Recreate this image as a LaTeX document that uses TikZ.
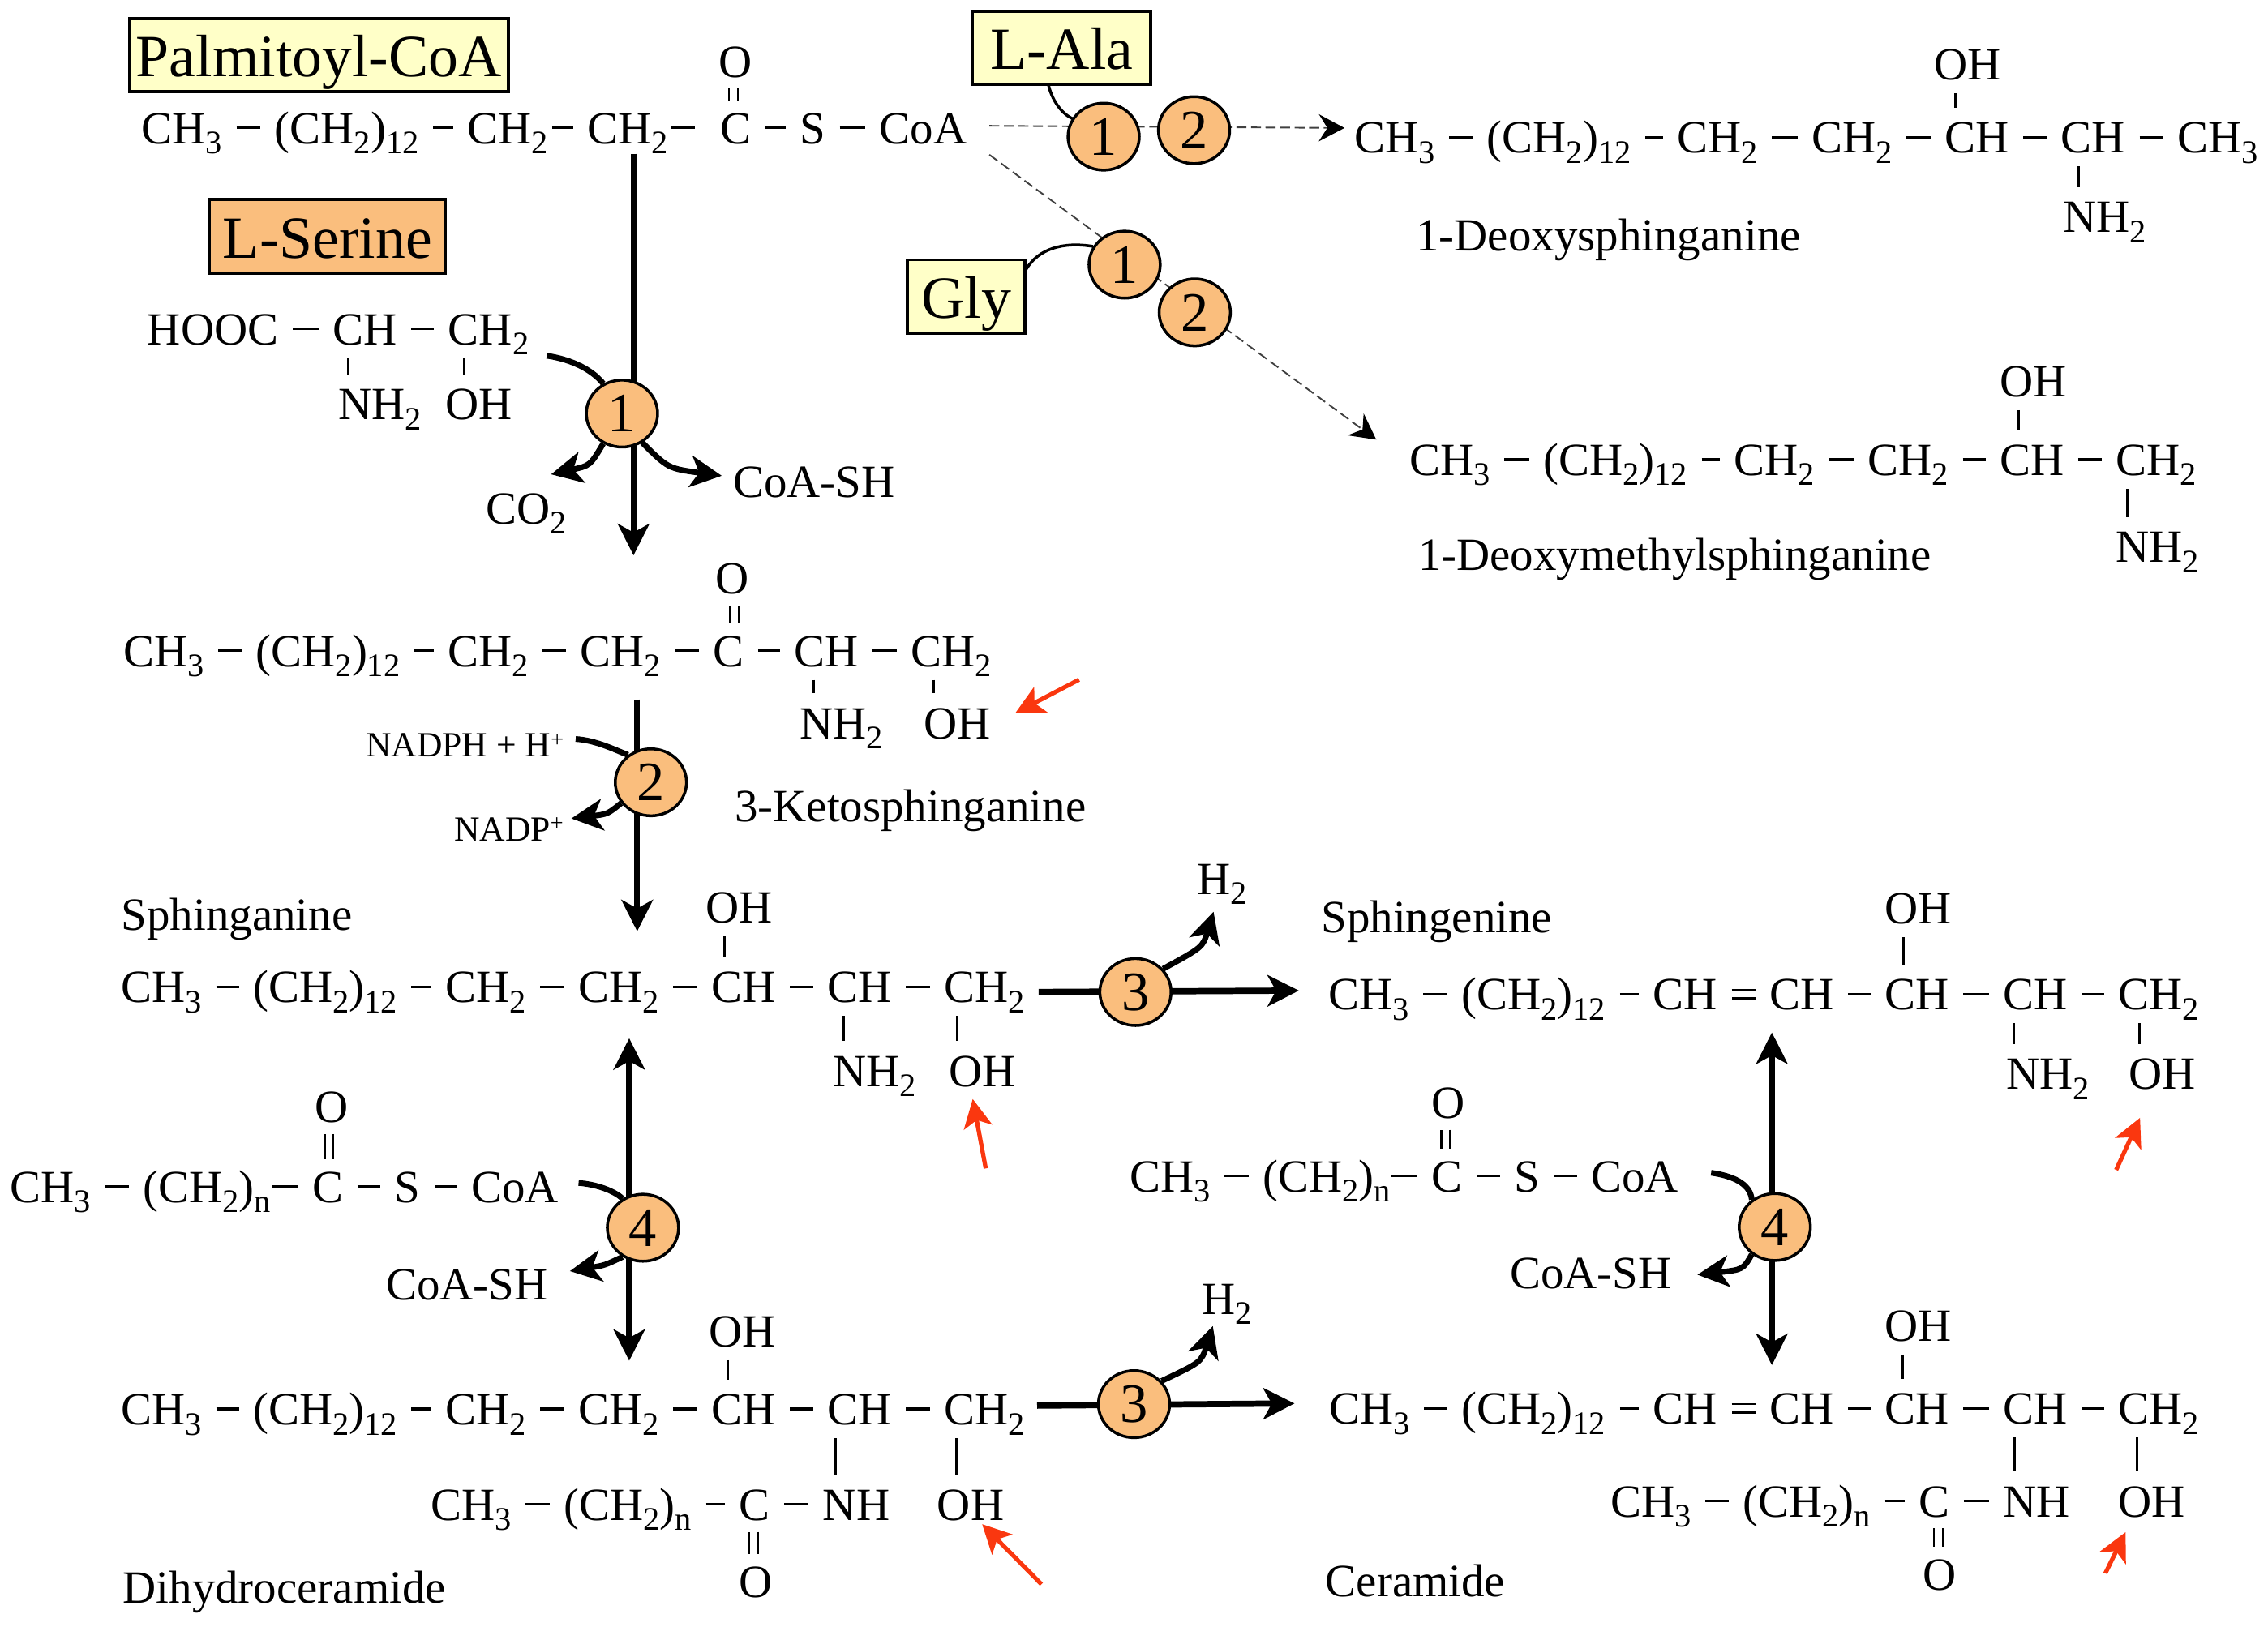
\documentclass[tikz,border=0pt]{standalone}
\usepackage{fontspec}
\setmainfont{Liberation Serif}
\usetikzlibrary{arrows.meta,shapes.geometric}
\definecolor{boxyellow}{RGB}{255,255,200}
\definecolor{enzorange}{RGB}{250,190,125}
\definecolor{redarrow}{RGB}{250,55,15}
\newcommand{\subs}[1]{\raisebox{-3.5pt}{\fontsize{11.5}{13}\selectfont #1}}
\newcommand{\sups}[1]{\raisebox{3.5pt}{\fontsize{8}{9}\selectfont #1}}

\begin{document}
\begin{tikzpicture}[
    x=0.017838cm, y=-0.017838cm,
    chem/.style={anchor=base west, xshift=-5pt, yshift=-0.7pt, inner sep=0pt, outer xsep=5pt, outer ysep=0pt,
        text height=12.7pt, text depth=1.5pt, font=\fontsize{16.2}{19}\selectfont},
    smalltext/.style={chem, font=\fontsize{12.4}{14}\selectfont},
    bond/.style={line width=0.9pt},
    dbl/.style={double, double distance=2.4pt, line width=0.65pt},
    tick/.style={line width=0.9pt, shorten <=3.2pt, shorten >=3.2pt},
    dtick/.style={dbl, shorten <=2.5pt, shorten >=2.5pt},
    namebox/.style={rectangle, draw, line width=1pt, inner sep=0pt, text height=15pt, text depth=0pt,
        font=\fontsize{21}{24}\selectfont},
    enzyme/.style={ellipse, draw, line width=1pt, fill=enzorange, inner sep=0pt,
        minimum width=25pt, minimum height=23.5pt, font=\fontsize{19.5}{22}\selectfont},
    main/.style={->, >={Stealth[length=11pt,width=11pt,inset=3pt]}, line width=2pt},
    heavy/.style={main, line width=2.2pt},
    side/.style={->, >={Stealth[length=11pt,width=11pt,inset=3pt]}, line width=2pt},
    sidein/.style={line width=2pt},
    thinlink/.style={line width=1pt},
    dashedarrow/.style={->, >={Stealth[length=9pt,width=9.5pt,inset=3pt,black]}, line width=0.55pt, draw=black!75, dash pattern=on 3.5pt off 1.6pt},
    redmark/.style={->, >={Stealth[length=10pt,width=10pt,inset=2.5pt]}, line width=1.5pt, draw=redarrow}
]
\useasboundingbox (0,0) rectangle (1568,1124.6);

% Name boxes
\node[namebox, fill=boxyellow, minimum width=133pt, minimum height=25.6pt] (PAL) at (220.5,38) {Palmitoyl-CoA};
\node[namebox, fill=enzorange, minimum width=82.7pt, minimum height=25.9pt] (SER) at (226.5,163.5) {L-Serine\hspace{2pt}};
\node[namebox, fill=boxyellow, minimum width=62.5pt, minimum height=25.6pt] (LA) at (734,33) {L-Ala\hspace{6pt}};
\node[namebox, fill=boxyellow, minimum width=41.2pt, minimum height=25.8pt] (GY) at (668,205) {Gly\hspace{3pt}};

% Palmitoyl-CoA
\node[chem] (P1) at (98,98) {CH\subs{3}};
\node[chem] (P2) at (190,98) {(CH\subs{2})\subs{12}};
\node[chem] (P3) at (323,98) {CH\subs{2}};
\node[chem] (P4) at (406,98) {CH\subs{2}};
\node[chem] (P5) at (498,98) {C};
\node[chem] (P6) at (553,98) {S};
\node[chem] (P7) at (608,98) {CoA};
\node[chem] (PO) at (497,52) {O};

% L-Serine
\node[chem] (S1) at (102,237) {HOOC};
\node[chem] (S2) at (230,237) {CH};
\node[chem] (S3) at (310,237) {CH\subs{2}};
\node[chem] (S4) at (234,289) {NH\subs{2}};
\node[chem] (S5) at (308,289) {OH};
\node[chem] (CO) at (336,361) {CO\subs{2}};
\node[chem] (CS1) at (507,342.5) {CoA-SH};

% 3-Ketosphinganine
\node[chem] (K1) at (85.5,459.5) {CH\subs{3}};
\node[chem] (K2) at (177,459.5) {(CH\subs{2})\subs{12}};
\node[chem] (K3) at (309.5,459.5) {CH\subs{2}};
\node[chem] (K4) at (401,459.5) {CH\subs{2}};
\node[chem] (K5) at (493,459.5) {C};
\node[chem] (K6) at (549,459.5) {CH};
\node[chem] (K7) at (630,459.5) {CH\subs{2}};
\node[chem] (KO) at (495,409.5) {O};
\node[chem] (KN) at (553,509.5) {NH\subs{2}};
\node[chem] (KH) at (639,509.5) {OH};
\node[chem] (KT) at (508,567) {3-Ketosphinganine};
\node[smalltext] (NH) at (253,522) {NADPH + H\sups{+}};
\node[smalltext] (NP) at (314,580) {NADP\sups{+}};

% Sphinganine
\node[chem] (AT) at (84,642) {Sphinganine};
\node[chem] (A1) at (84,692) {CH\subs{3}};
\node[chem] (A2) at (175,692) {(CH\subs{2})\subs{12}};
\node[chem] (A3) at (308,692) {CH\subs{2}};
\node[chem] (A4) at (400,692) {CH\subs{2}};
\node[chem] (A5) at (492,692) {CH};
\node[chem] (A6) at (572,692) {CH};
\node[chem] (A7) at (653,692) {CH\subs{2}};
\node[chem] (AO) at (488,637) {OH};
\node[chem] (AN) at (576,750) {NH\subs{2}};
\node[chem] (AH) at (656,750) {OH};

% Acyl-CoA, left
\node[chem] (L1) at (7,830) {CH\subs{3}};
\node[chem] (L2) at (99,830) {(CH\subs{2})\subs{n}};
\node[chem] (L3) at (216,830) {C};
\node[chem] (L4) at (273,830) {S};
\node[chem] (L5) at (326,830) {CoA};
\node[chem] (LO) at (218,775) {O};
\node[chem] (CS2) at (267,897.5) {CoA-SH};

% Dihydroceramide
\node[chem] (D1) at (84,984) {CH\subs{3}};
\node[chem] (D2) at (175,984) {(CH\subs{2})\subs{12}};
\node[chem] (D3) at (308,984) {CH\subs{2}};
\node[chem] (D4) at (400,984) {CH\subs{2}};
\node[chem] (D5) at (492,984) {CH};
\node[chem] (D6) at (572,984) {CH};
\node[chem] (D7) at (653,984) {CH\subs{2}};
\node[chem] (DO) at (490,930) {OH};
\node[chem] (E1) at (298,1050) {CH\subs{3}};
\node[chem] (E2) at (390,1050) {(CH\subs{2})\subs{n}};
\node[chem] (E3) at (511,1050) {C};
\node[chem] (E4) at (569,1050) {NH};
\node[chem] (E5) at (648,1050) {OH};
\node[chem] (EO) at (511,1103) {O};
\node[chem] (ET) at (85,1107) {Dihydroceramide};

% 1-Deoxysphinganine
\node[chem] (U1) at (936.5,104.5) {CH\subs{3}};
\node[chem] (U2) at (1028,104.5) {(CH\subs{2})\subs{12}};
\node[chem] (U3) at (1159.5,104.5) {CH\subs{2}};
\node[chem] (U4) at (1252.5,104.5) {CH\subs{2}};
\node[chem] (U5) at (1344.5,104.5) {CH};
\node[chem] (U6) at (1425,104.5) {CH};
\node[chem] (U7) at (1505.5,104.5) {CH\subs{3}};
\node[chem] (UO) at (1337.5,54) {OH};
\node[chem] (UN) at (1426.5,159.5) {NH\subs{2}};
\node[chem] (UT) at (979,172) {1-Deoxysphinganine};

% 1-Deoxymethylsphinganine
\node[chem] (V1) at (974.5,327.5) {CH\subs{3}};
\node[chem] (V2) at (1067,327.5) {(CH\subs{2})\subs{12}};
\node[chem] (V3) at (1199,327.5) {CH\subs{2}};
\node[chem] (V4) at (1291.5,327.5) {CH\subs{2}};
\node[chem] (V5) at (1382.5,327.5) {CH};
\node[chem] (V6) at (1463,327.5) {CH\subs{2}};
\node[chem] (VO) at (1382.5,273) {OH};
\node[chem] (VN) at (1463,387.5) {NH\subs{2}};
\node[chem] (VT) at (980.5,393) {1-Deoxymethylsphinganine};

% Sphingenine
\node[chem] (GT) at (913.5,643.5) {Sphingenine};
\node[chem] (G1) at (918.5,697) {CH\subs{3}};
\node[chem] (G2) at (1010.5,697) {(CH\subs{2})\subs{12}};
\node[chem] (G3) at (1143,697) {CH};
\node[chem] (G4) at (1223.5,697) {CH};
\node[chem] (G5) at (1303,697) {CH};
\node[chem] (G6) at (1385,697) {CH};
\node[chem] (G7) at (1464.5,697) {CH\subs{2}};
\node[chem] (GO) at (1303,637.5) {OH};
\node[chem] (GN) at (1387,752) {NH\subs{2}};
\node[chem] (GH) at (1472,752) {OH};

% Acyl-CoA, right
\node[chem] (R1) at (781,823) {CH\subs{3}};
\node[chem] (R2) at (873,823) {(CH\subs{2})\subs{n}};
\node[chem] (R3) at (990,823) {C};
\node[chem] (R4) at (1047,823) {S};
\node[chem] (R5) at (1100,823) {CoA};
\node[chem] (RO) at (990,772) {O};
\node[chem] (CS3) at (1044,889.5) {CoA-SH};

% Ceramide
\node[chem] (M1) at (919,983.5) {CH\subs{3}};
\node[chem] (M2) at (1010.5,983.5) {(CH\subs{2})\subs{12}};
\node[chem] (M3) at (1143,983.5) {CH};
\node[chem] (M4) at (1223.5,983.5) {CH};
\node[chem] (M5) at (1303,983.5) {CH};
\node[chem] (M6) at (1385,983.5) {CH};
\node[chem] (M7) at (1464.5,983.5) {CH\subs{2}};
\node[chem] (MO) at (1303,926) {OH};
\node[chem] (N1) at (1113.5,1047.5) {CH\subs{3}};
\node[chem] (N2) at (1205,1047.5) {(CH\subs{2})\subs{n}};
\node[chem] (N3) at (1326.5,1047.5) {C};
\node[chem] (N4) at (1385,1047.5) {NH};
\node[chem] (N5) at (1464.5,1047.5) {OH};
\node[chem] (NO) at (1329.5,1098) {O};
\node[chem] (MT) at (916.5,1102.5) {Ceramide};

% H2 labels
\node[chem] (H2a) at (827.5,617) {H\subs{2}};
\node[chem] (H2b) at (831,907.5) {H\subs{2}};

% Bonds along the chains
\draw[bond] (P1) -- (P2) -- (P3);
\draw[bond, shorten <=-3.5pt] (P3) -- (P4);
\draw[bond, shorten <=-4pt, shorten >=4pt] (P4) -- (P5);
\draw[bond] (P5) -- (P6) -- (P7);
\draw[bond] (S1) -- (S2) -- (S3);
\draw[bond] (K1) -- (K2) -- (K3) -- (K4) -- (K5) -- (K6) -- (K7);
\draw[bond] (A1) -- (A2) -- (A3) -- (A4) -- (A5) -- (A6) -- (A7);
\draw[bond] (L1) -- (L2);
\draw[bond, shorten <=-4.5pt] (L2) -- (L3);
\draw[bond] (L3) -- (L4) -- (L5);
\draw[bond] (D1) -- (D2) -- (D3) -- (D4) -- (D5) -- (D6) -- (D7);
\draw[bond] (E1) -- (E2) -- (E3) -- (E4);
\draw[bond] (U1) -- (U2) -- (U3) -- (U4) -- (U5) -- (U6) -- (U7);
\draw[bond] (V1) -- (V2) -- (V3) -- (V4) -- (V5) -- (V6);
\draw[bond] (G1) -- (G2) -- (G3);
\draw[dbl] (G3) -- (G4);
\draw[bond] (G4) -- (G5) -- (G6) -- (G7);
\draw[bond] (R1) -- (R2);
\draw[bond, shorten <=-4.5pt] (R2) -- (R3);
\draw[bond] (R3) -- (R4) -- (R5);
\draw[bond] (M1) -- (M2) -- (M3);
\draw[dbl] (M3) -- (M4);
\draw[bond] (M4) -- (M5) -- (M6) -- (M7);
\draw[bond] (N1) -- (N2) -- (N3) -- (N4);

% Substituent bonds
\draw[dtick] (507,0 |- PO.south) -- (507,0 |- P5.north);
\draw[tick] (241,0 |- S2.south) -- (241,0 |- S4.north);
\draw[tick] (321,0 |- S3.south) -- (321,0 |- S5.north);
\draw[dtick] (507.5,0 |- KO.south) -- (507.5,0 |- K5.north);
\draw[tick] (562.5,0 |- K6.south) -- (562.5,0 |- KN.north);
\draw[tick] (645.5,0 |- K7.south) -- (645.5,0 |- KH.north);
\draw[tick] (501,0 |- AO.south) -- (501,0 |- A5.north);
\draw[tick] (583,0 |- A6.south) -- (583,0 |- AN.north);
\draw[tick] (662,0 |- A7.south) -- (662,0 |- AH.north);
\draw[dtick] (227.5,0 |- LO.south) -- (227.5,0 |- L3.north);
\draw[tick] (503,0 |- DO.south) -- (503,0 |- D5.north);
\draw[tick] (577.5,0 |- D6.south) -- (577.5,0 |- E4.north);
\draw[tick] (661,0 |- D7.south) -- (661,0 |- E5.north);
\draw[dtick] (521,0 |- E3.south) -- (521,0 |- EO.north);
\draw[tick] (1352,0 |- UO.south) -- (1352,0 |- U5.north);
\draw[tick] (1437,0 |- U6.south) -- (1437,0 |- UN.north);
\draw[tick] (1395.5,0 |- VO.south) -- (1395.5,0 |- V5.north);
\draw[tick] (1471,0 |- V6.south) -- (1471,0 |- VN.north);
\draw[tick] (1316,0 |- GO.south) -- (1316,0 |- G5.north);
\draw[tick] (1392,0 |- G6.south) -- (1392,0 |- GN.north);
\draw[tick] (1479,0 |- G7.south) -- (1479,0 |- GH.north);
\draw[dtick] (999.5,0 |- RO.south) -- (999.5,0 |- R3.north);
\draw[tick] (1315.5,0 |- MO.south) -- (1315.5,0 |- M5.north);
\draw[tick] (1393,0 |- M6.south) -- (1393,0 |- N4.north);
\draw[tick] (1477.5,0 |- M7.south) -- (1477.5,0 |- N5.north);
\draw[dtick] (1340,0 |- N3.south) -- (1340,0 |- NO.north);

% Free ends of the arrows
\coordinate (T1) at (438,384);
\coordinate (T2) at (440.5,644);
\coordinate (T3) at (435,718);
\coordinate (T4) at (435,941);
\coordinate (T5) at (1225,714);
\coordinate (T6) at (1225,944);
\coordinate (T7) at (718,686);
\coordinate (T8) at (898,685);
\coordinate (T9) at (717,972);
\coordinate (T10) at (895,970.5);
\coordinate (H1) at (684,87);
\coordinate (H2) at (929.5,88.5);
\coordinate (H3) at (684,107);
\coordinate (H4) at (951.5,304);

% Main arrows
\draw[main, shorten <=2pt] (T1 |- P4.south) -- (T1);
\draw[main, shorten <=10pt] (T2 |- K4.south) -- (T2);
\draw[main, <->] (T3) -- (T4);
\draw[main, <->] (T5) -- (T6);
\draw[heavy] (T7) -- (T8);
\draw[heavy] (T9) -- (T10);
\draw[dashedarrow] (H1) -- (H2);
\draw[dashedarrow] (H3) -- (H4);

% Enzymes
\node[enzyme] (Z1) at (430,286) {1};
\node[enzyme] (Z2) at (450,541) {2};
\node[enzyme] (Z3) at (785,686) {3};
\node[enzyme] (Z4) at (784,971) {3};
\node[enzyme] (Z5) at (444.5,849) {4};
\node[enzyme] (Z6) at (1227,848.5) {4};
\node[enzyme] (Y1) at (763,94.5) {1};
\node[enzyme] (Y2) at (825.5,90) {2};
\node[enzyme] (W1) at (777.5,183) {1};
\node[enzyme] (W2) at (826,216) {2};

% Side substrates and products
\coordinate (Q1) at (378,246);
\coordinate (Q2) at (381,328);
\coordinate (Q3) at (499,329);
\coordinate (Q4) at (398,511);
\coordinate (Q5) at (395,566);
\coordinate (Q6) at (400,818);
\coordinate (Q7) at (394,879);
\coordinate (Q8) at (1183,811);
\coordinate (Q9) at (1173.5,881.5);
\coordinate (Q10) at (839,630.5);
\coordinate (Q11) at (838.5,917);
\draw[sidein] (Q1) .. controls (392,248) and (408,254) .. (Z1.122);
\draw[side] (Z1.238) .. controls (408,322) .. (Q2);
\draw[side] (Z1.305) .. controls (462,324) .. (Q3);
\draw[sidein] (Q4) .. controls (412,512) and (424,518) .. (Z2.130);
\draw[side] (Z2.215) .. controls (420,563) .. (Q5);
\draw[sidein] (Q6) .. controls (412,819) and (424,823) .. (Z5.125);
\draw[side] (Z5.235) .. controls (418,875) .. (Q7);
\draw[sidein] (Q8) .. controls (1197,813) and (1210,818) .. (Z6.130);
\draw[side] (Z6.230) .. controls (1205,878) .. (Q9);
\draw[side] (Z3.40) .. controls (831.5,655) .. (Q10);
\draw[side] (Z4.40) .. controls (830.5,942) .. (Q11);
\draw[thinlink] (725,0 |- LA.south) .. controls (727,68) and (733,78) .. (Y1.150);
\draw[thinlink] (GY.east |- 0,186) .. controls (718,172) and (735,167) .. (W1.150);

% Red marks
\coordinate (X1) at (746,470);
\coordinate (X2) at (702,493);
\coordinate (X3) at (681.5,808);
\coordinate (X4) at (672.5,760);
\coordinate (X5) at (1463,809);
\coordinate (X6) at (1479.5,773);
\coordinate (X7) at (720,1095.5);
\coordinate (X8) at (679,1054);
\coordinate (X9) at (1455.5,1088);
\coordinate (X10) at (1469.5,1059.5);
\draw[redmark] (X1) -- (X2);
\draw[redmark] (X3) -- (X4);
\draw[redmark] (X5) -- (X6);
\draw[redmark] (X7) -- (X8);
\draw[redmark] (X9) -- (X10);
\end{tikzpicture}
\end{document}
